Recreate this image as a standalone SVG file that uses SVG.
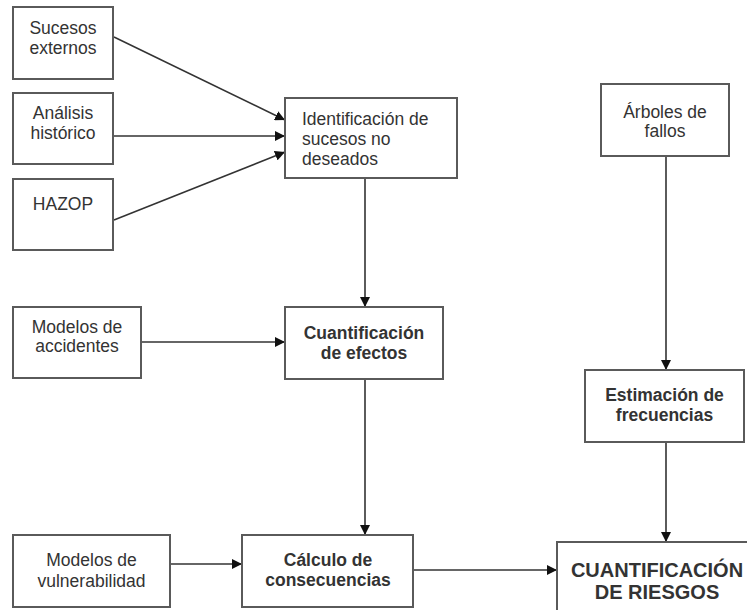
<svg xmlns="http://www.w3.org/2000/svg" width="747" height="610" viewBox="0 0 747 610">
<defs>
<style>
.box{fill:#fff;stroke:#5a5a5a;stroke-width:2}
.t{font-family:"Liberation Sans",Arial,sans-serif;font-size:17.5px;fill:#333;text-anchor:middle}
.tl{text-anchor:start}
.b{font-weight:bold}
.big{font-size:20px}
.c{stroke:#333;stroke-width:1.6;fill:none;marker-end:url(#arr)}
</style>
<marker id="arr" viewBox="0 0 10 10" refX="10" refY="5" markerWidth="10" markerHeight="10" markerUnits="userSpaceOnUse" orient="auto">
<path d="M0,0 L10,5 L0,10 Z" fill="#111"/>
</marker>
</defs>
<rect width="747" height="610" fill="#fff"/>
<g id="connectors">
<line class="c" x1="114" y1="37" x2="285" y2="120"/>
<line class="c" x1="114" y1="136" x2="285" y2="136"/>
<line class="c" x1="114" y1="220" x2="285" y2="152"/>
<line class="c" x1="365" y1="179" x2="365" y2="307"/>
<line class="c" x1="142" y1="342" x2="285" y2="342"/>
<line class="c" x1="365" y1="379" x2="365" y2="535"/>
<line class="c" x1="171" y1="564" x2="242" y2="564"/>
<line class="c" x1="414" y1="570" x2="557" y2="570"/>
<line class="c" x1="666" y1="157" x2="666" y2="370"/>
<line class="c" x1="666" y1="443" x2="666" y2="542"/>
</g>
<g id="sucesos-externos">
<rect class="box" x="13" y="7" width="100" height="72"/>
<text class="t" x="63" y="34">Sucesos</text>
<text class="t" x="63" y="54">externos</text>
</g>
<g id="analisis-historico">
<rect class="box" x="13" y="93" width="100" height="71"/>
<text class="t" x="63" y="119">Análisis</text>
<text class="t" x="63" y="139">histórico</text>
</g>
<g id="hazop">
<rect class="box" x="13" y="179" width="100" height="71"/>
<text class="t" x="63" y="210">HAZOP</text>
</g>
<g id="identificacion">
<rect class="box" x="285" y="98" width="172" height="80"/>
<text class="t tl" x="302" y="124.5">Identificación de</text>
<text class="t tl" x="302" y="144.5">sucesos no</text>
<text class="t tl" x="302" y="164.5">deseados</text>
</g>
<g id="modelos-accidentes">
<rect class="box" x="13" y="307" width="128" height="71"/>
<text class="t" x="77" y="333">Modelos de</text>
<text class="t" x="77" y="352">accidentes</text>
</g>
<g id="cuantificacion-efectos">
<rect class="box" x="285" y="307" width="158" height="72"/>
<text class="t b" x="364" y="339">Cuantificación</text>
<text class="t b" x="364" y="359">de efectos</text>
</g>
<g id="arboles-fallos">
<rect class="box" x="601" y="84" width="128" height="72"/>
<text class="t" x="665" y="118">Árboles de</text>
<text class="t" x="665" y="137">fallos</text>
</g>
<g id="estimacion-frecuencias">
<rect class="box" x="585" y="370" width="159" height="72"/>
<text class="t b" x="664.5" y="401">Estimación de</text>
<text class="t b" x="664.5" y="421">frecuencias</text>
</g>
<g id="modelos-vulnerabilidad">
<rect class="box" x="13" y="535" width="157" height="72"/>
<text class="t" x="91.5" y="566">Modelos de</text>
<text class="t" x="91.5" y="587">vulnerabilidad</text>
</g>
<g id="calculo-consecuencias">
<rect class="box" x="242" y="535" width="171" height="72"/>
<text class="t b" x="328" y="566">Cálculo de</text>
<text class="t b" x="328" y="586">consecuencias</text>
</g>
<g id="cuantificacion-riesgos">
<rect class="box" x="557" y="542" width="200" height="80"/>
<text class="t b big" x="657" y="577">CUANTIFICACIÓN</text>
<text class="t b big" x="657" y="599">DE RIESGOS</text>
</g>
</svg>
